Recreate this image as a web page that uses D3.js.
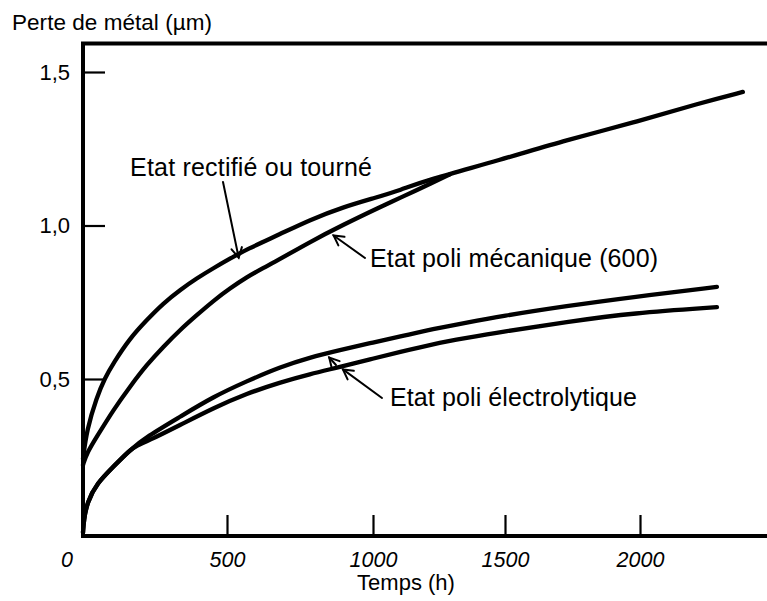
<!DOCTYPE html>
<html><head><meta charset="utf-8">
<script src="https://cdn.jsdelivr.net/npm/d3@7"></script>
<style>
body{margin:0;background:#fff}
svg{display:block}
text{font-family:"Liberation Sans",Arial,Helvetica,sans-serif;fill:#000}
</style>
</head><body>
<svg id="c" width="767" height="601"></svg>
<script>
// ---- data (temps en h, perte de métal en µm) ----
const timeRect = [0, 13, 48, 76, 105, 163, 221, 279, 337, 395, 453, 510, 567, 682, 783, 897, 1015, 1102, 1205, 1481, 1729, 1974, 2222, 2381];
const lossRect = [0.24, 0.334, 0.442, 0.503, 0.551, 0.633, 0.692, 0.747, 0.790, 0.828, 0.861, 0.892, 0.922, 0.972, 1.018, 1.060, 1.092, 1.115, 1.148, 1.213, 1.279, 1.334, 1.399, 1.435];

const timeMeca = [0, 14, 48, 105, 163, 221, 279, 337, 395, 453, 510, 568, 625, 682, 783, 897, 1027, 1102, 1227, 1290];
const lossMeca = [0.22, 0.26, 0.312, 0.399, 0.475, 0.546, 0.605, 0.660, 0.708, 0.755, 0.795, 0.832, 0.862, 0.891, 0.946, 1.002, 1.060, 1.090, 1.140, 1.166];

const timeElecA = [0, 3, 14, 49, 105, 163, 221, 337, 452, 568, 682, 783, 887, 990, 1102, 1227, 1356, 1481, 1729, 1974, 2285];
const lossElecA = [0, 0.04, 0.098, 0.161, 0.214, 0.269, 0.312, 0.377, 0.442, 0.493, 0.539, 0.570, 0.594, 0.617, 0.638, 0.663, 0.684, 0.704, 0.738, 0.767, 0.800];

const timeElecB = [0, 3, 14, 49, 105, 163, 190, 221, 337, 452, 568, 682, 783, 887, 990, 1102, 1227, 1356, 1481, 1729, 1974, 2285];
const lossElecB = [0, 0.04, 0.098, 0.161, 0.214, 0.269, 0.285, 0.296, 0.350, 0.405, 0.453, 0.489, 0.516, 0.539, 0.564, 0.588, 0.614, 0.634, 0.653, 0.686, 0.715, 0.734];

const xTickValues = [500, 1000, 1500, 2000];
const yTickValues = [0.5, 1.0, 1.5];
const labels = ["Etat rectifié ou tourné", "Etat poli mécanique (600)", "Etat poli électrolytique"];
const yTitle = "Perte de métal (µm)";
const xTitle = "Temps (h)";

// ---- drawing ----
const svg = d3.select("#c");
const x = d3.scaleLinear().domain([0, 500, 1000, 1500, 2000]).range([83, 227, 373, 505, 640]);
const y = d3.scaleLinear().domain([0, 1.5]).range([532.5, 72]);
const frLocale = d3.formatLocale({decimal: ",", thousands: " ", grouping: [3], currency: ["", " €"]});
const fmt = frLocale.format(".1f");

const axisY = 536, axisTop = 43.5, xRight = 767;

// y axis ticks
const gy = svg.append("g").attr("transform", "translate(83,0)")
  .call(d3.axisLeft(y).tickValues(yTickValues).tickSize(-22).tickPadding(13).tickFormat(fmt));
gy.select(".domain").remove();
gy.selectAll(".tick line").attr("stroke", "#000").attr("stroke-width", 2.2);
gy.selectAll(".tick text").attr("font-size", 22).attr("fill", "#000")
  .style("font-family", '"Liberation Sans",Arial,sans-serif');

// x axis ticks
const gx = svg.append("g").attr("transform", `translate(0,${axisY})`)
  .call(d3.axisBottom(x).tickValues(xTickValues).tickSize(-21).tickPadding(16).tickFormat(d3.format("d")));
gx.select(".domain").remove();
gx.selectAll(".tick line").attr("stroke", "#000").attr("stroke-width", 2.2);
gx.selectAll(".tick text").attr("font-size", 21.5).attr("font-style", "italic").attr("fill", "#000")
  .style("font-family", '"Liberation Sans",Arial,sans-serif');
svg.append("text").attr("x", x(0) - 16).attr("y", axisY + 31).attr("text-anchor", "middle")
  .attr("font-size", 21.5).attr("font-style", "italic").text("0");

// frame (left, top, bottom)
svg.append("path")
  .attr("d", `M${xRight},${axisTop}H${x(0)}V${axisY}H${xRight}`)
  .attr("fill", "none").attr("stroke", "#000").attr("stroke-width", 4).attr("stroke-linejoin", "miter");

// axis titles
svg.append("text").attr("x", 12).attr("y", 30).attr("font-size", 22.5).attr("textLength", 200)
  .attr("lengthAdjust", "spacing").text(yTitle);
svg.append("text").attr("x", 406).attr("y", 590).attr("text-anchor", "middle").attr("font-size", 22).text(xTitle);

// curves
const line = d3.line().x(d => x(d[0])).y(d => y(d[1])).curve(d3.curveBasis);
const series = [
  d3.zip(timeRect, lossRect),
  d3.zip(timeMeca, lossMeca),
  d3.zip(timeElecA, lossElecA),
  d3.zip(timeElecB, lossElecB)
];
svg.append("g").selectAll("path").data(series).join("path")
  .attr("d", line).attr("fill", "none").attr("stroke", "#000").attr("stroke-width", 4.3)
  .attr("stroke-linecap", "round").attr("stroke-linejoin", "round");

// annotations
function arrow(x1, y1, x2, y2) {
  const g = svg.append("g").attr("stroke", "#000").attr("stroke-width", 2).attr("fill", "none").attr("stroke-linecap", "round");
  g.append("line").attr("x1", x1).attr("y1", y1).attr("x2", x2).attr("y2", y2);
  const a = Math.atan2(y1 - y2, x1 - x2), L = 11, s = 0.5;
  g.append("path").attr("d",
    `M${x2 + L * Math.cos(a - s)},${y2 + L * Math.sin(a - s)}L${x2},${y2}L${x2 + L * Math.cos(a + s)},${y2 + L * Math.sin(a + s)}`);
}
const lab = svg.append("g").attr("font-size", 25);
lab.append("text").attr("x", 130).attr("y", 176).attr("textLength", 242).attr("lengthAdjust", "spacing").text(labels[0]);
lab.append("text").attr("x", 370).attr("y", 267).attr("textLength", 288).attr("lengthAdjust", "spacing").text(labels[1]);
lab.append("text").attr("x", 390).attr("y", 406).attr("textLength", 247).attr("lengthAdjust", "spacing").text(labels[2]);

arrow(223, 182, x(540), y(0.905) + 3);
arrow(365, 258, x(865), y(0.987) + 6);
arrow(382, 398, x(897), y(0.541) + 3);
arrow(336, 365, x(850), y(0.583) + 4);
</script>
</body></html>
